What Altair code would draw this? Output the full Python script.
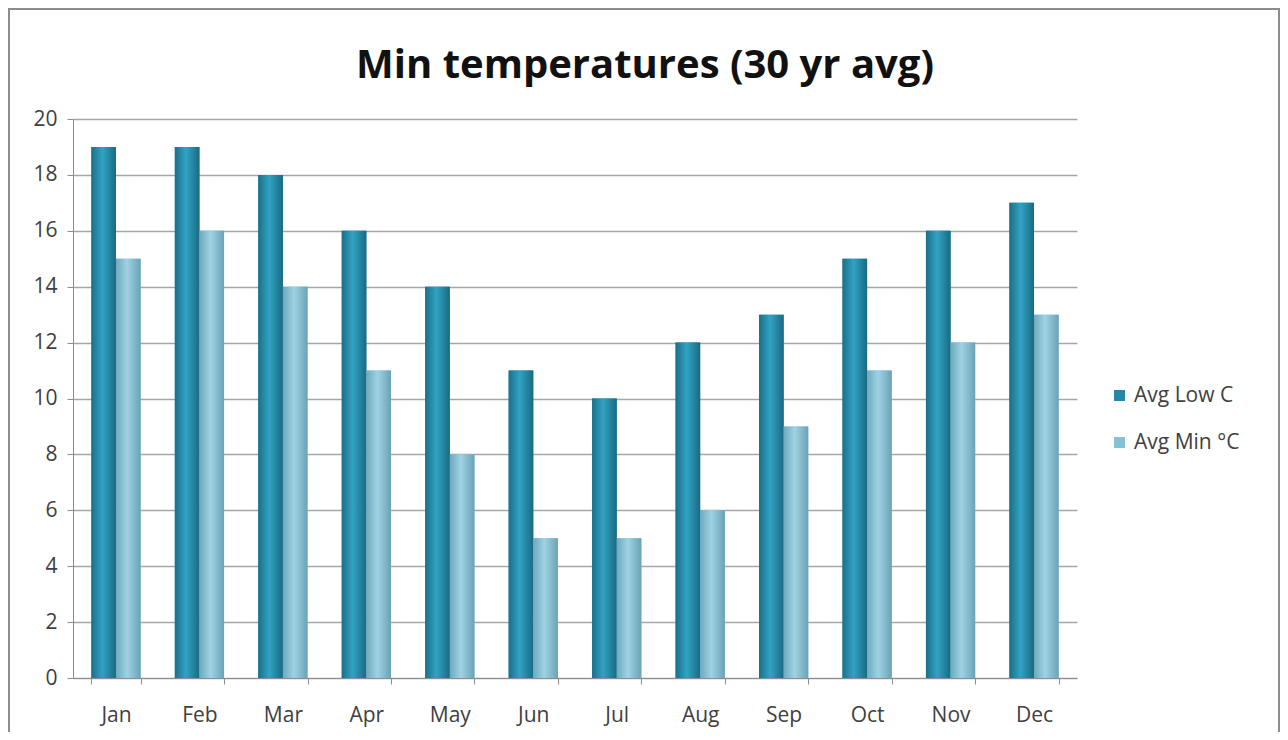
import altair as alt
import pandas as pd

months = ["Jan", "Feb", "Mar", "Apr", "May", "Jun", "Jul", "Aug", "Sep", "Oct", "Nov", "Dec"]
avg_low = [19, 19, 18, 16, 14, 11, 10, 12, 13, 15, 16, 17]
avg_min = [15, 16, 14, 11, 8, 5, 5, 6, 9, 11, 12, 13]
series = ["Avg Low C", "Avg Min °C"]
title_text = "Min temperatures (30 yr avg)"

rows = []
for m, a, b in zip(months, avg_low, avg_min):
    rows.append({"month": m, "series": series[0], "value": a})
    rows.append({"month": m, "series": series[1], "value": b})
df = pd.DataFrame(rows)

font = "Open Sans"
lab = "#404040"
axc = "#8c8c8c"

x_enc = alt.X("month:N", sort=months, title=None,
              scale=alt.Scale(paddingInner=0.41, paddingOuter=0.22),
              axis=alt.Axis(labelAngle=0, labelFontSize=21, labelColor=lab, labelFont=font,
                            domainColor=axc, tickColor=axc, tickBand="extent",
                            labelPadding=20, tickSize=6, grid=False))
xo_enc = alt.XOffset("series:N", sort=series, scale=alt.Scale(domain=series))
y_enc = alt.Y("value:Q", title=None,
              scale=alt.Scale(domain=[0, 20], nice=False),
              axis=alt.Axis(values=list(range(0, 21, 2)), labelFontSize=21, labelColor=lab,
                            labelFont=font, domainColor=axc, tickColor=axc,
                            gridColor="#a6a6a6", gridWidth=1.3, tickSize=6, labelPadding=10))

base = alt.Chart(df).mark_bar().encode(
    x=x_enc, xOffset=xo_enc, y=y_enc,
    color=alt.Color("series:N", sort=series,
                    scale=alt.Scale(domain=series, range=["#2389a6", "#86c2d6"]),
                    legend=alt.Legend(title=None, orient="none", legendX=1036, legendY=266,
                                      symbolType="square", symbolSize=120, labelFontSize=21,
                                      labelFont=font, labelColor=lab, rowPadding=25,
                                      symbolStrokeWidth=0)),
)

grad_dark = alt.Gradient(
    gradient="linear", x1=0, x2=1, y1=0, y2=0,
    stops=[alt.GradientStop(offset=0, color="#1b6f89"),
           alt.GradientStop(offset=0.45, color="#31a3c3"),
           alt.GradientStop(offset=1, color="#1a6a82")])
grad_light = alt.Gradient(
    gradient="linear", x1=0, x2=1, y1=0, y2=0,
    stops=[alt.GradientStop(offset=0, color="#6ea9bd"),
           alt.GradientStop(offset=0.45, color="#9fd2e3"),
           alt.GradientStop(offset=1, color="#6aa3b6")])

dark = alt.Chart(df).transform_filter(alt.datum.series == series[0]).mark_bar(
    color=grad_dark).encode(x=x_enc, xOffset=xo_enc, y=y_enc)
light = alt.Chart(df).transform_filter(alt.datum.series == series[1]).mark_bar(
    color=grad_light).encode(x=x_enc, xOffset=xo_enc, y=y_enc)

frame = alt.Chart(pd.DataFrame({"a": [0]})).mark_rect(
    fill=None, stroke="#8c8c8c", strokeWidth=2
).encode(
    x=alt.value(-64), x2=alt.value(1206), y=alt.value(-110), y2=alt.value(640)
)

title = alt.Chart(pd.DataFrame({"t": [title_text]})).mark_text(
    font=font, fontSize=40, fontWeight="bold", color="#111111",
    align="center", baseline="alphabetic"
).encode(
    text="t:N", x=alt.value(572), y=alt.value(-41)
)

chart = alt.layer(frame, base, dark, light, title).properties(
    width=1004, height=559,
    autosize=alt.AutoSizeParams(type="none"),
    padding={"left": 65, "top": 111, "right": 203, "bottom": 54},
).configure_view(stroke=None)

chart.save("out.html", embed_options={"renderer": "svg", "actions": False})
